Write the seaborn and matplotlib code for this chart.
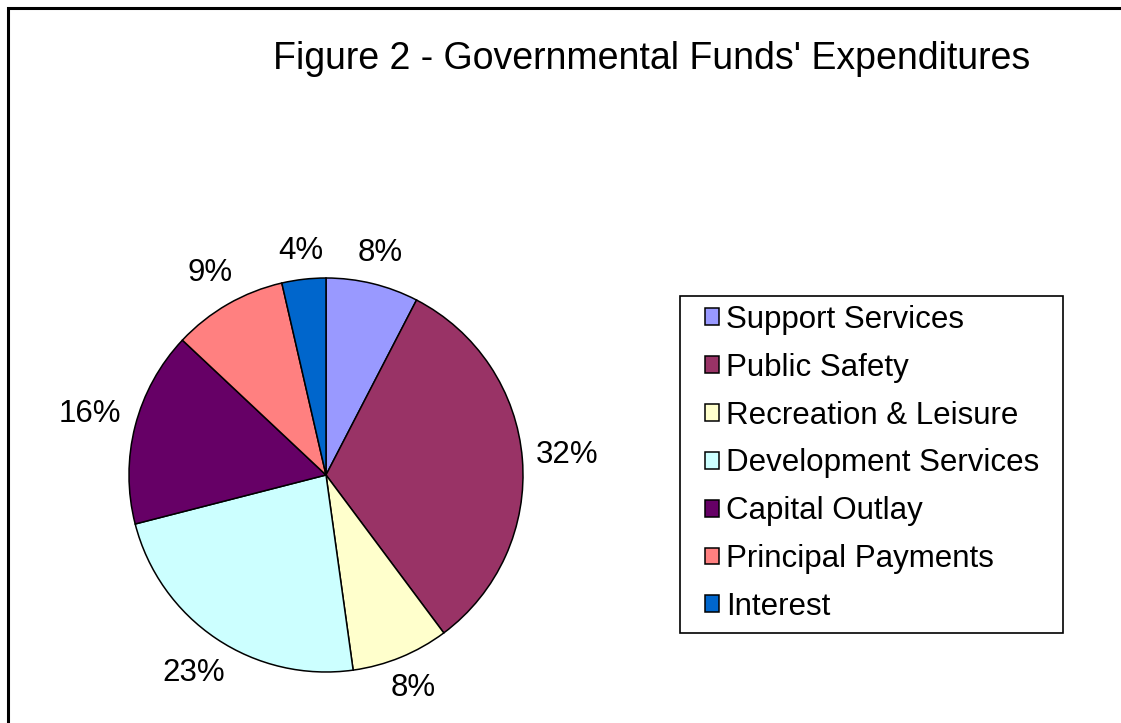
import numpy as np
import matplotlib.pyplot as plt
import seaborn as sns

# Podaci (procitano sa slike)
categories = ['Support Services', 'Public Safety', 'Recreation & Leisure',
              'Development Services', 'Capital Outlay', 'Principal Payments', 'Interest']
shares = [7.6, 32.2, 8.0, 23.2, 16.0, 9.4, 3.6]
colors = ['#9999FF', '#993366', '#FFFFCC', '#CCFFFF', '#660066', '#FF8080', '#0066CC']
title = "Figure 2 - Governmental Funds' Expenditures"

sns.set_style('white')
plt.rcParams['font.family'] = ['Liberation Sans', 'DejaVu Sans']
plt.rcParams['text.color'] = 'black'

W, H = 1121, 723
fig = plt.figure(figsize=(W / 100, H / 100), dpi=100)

# pita: centar (326, 475) px, radijus 197 px
R = 197
lim = 1.3
side = 2 * lim * R
cx, cy = 326, 475
ax = fig.add_axes([(cx - side / 2) / W, (H - cy - side / 2) / H, side / W, side / H])
wedges, texts = ax.pie(shares, colors=colors, startangle=90, counterclock=False,
                       labels=[f'{v:.0f}%' for v in shares], labeldistance=1.15,
                       wedgeprops={'edgecolor': 'black', 'linewidth': 1.1},
                       textprops={'fontsize': 22.5, 'color': 'black'})
ax.set_xlim(-lim, lim)
ax.set_ylim(-lim, lim)
ax.set_aspect('equal')
ax.axis('off')

# postavi oznake van pite, kao u Excelu (ivica teksta uz krug)
renderer = fig.canvas.get_renderer()
gap = 210
for w, t in zip(wedges, texts):
    ang = np.deg2rad((w.theta1 + w.theta2) / 2)
    ux, uy = np.cos(ang), np.sin(ang)
    ext = t.get_window_extent(renderer)
    r_px = gap + ext.width / 2 * abs(ux) + 26 / 2 * abs(uy)
    t.set_position((ux * r_px / R, uy * r_px / R))
    t.set_ha('center')
    t.set_va('center')
    t.set_clip_on(False)

fig.text(652 / W, 1 - 69 / H, title, fontsize=27, ha='center', va='baseline', color='black')

leg = fig.legend(wedges, categories, loc='upper left',
                 bbox_to_anchor=(705 / W, 1 - 305 / H), bbox_transform=fig.transFigure,
                 fontsize=22.5, frameon=False, borderaxespad=0, borderpad=0,
                 handlelength=0.45, handleheight=0.45, handletextpad=0.23,
                 labelspacing=0.57, labelcolor='black')

# okvir legende
fig.add_artist(plt.Rectangle((680 / W, 1 - 633 / H), 383 / W, 337 / H, transform=fig.transFigure,
                             fill=False, edgecolor='black', linewidth=1.2))

# okvir grafikona (samo lijeva i gornja ivica vidljive)
fig.add_artist(plt.Rectangle((7.5 / W, -0.1), 1.2, 1.1 - 8.5 / H, transform=fig.transFigure,
                             fill=False, edgecolor='black', linewidth=2.2))

fig.savefig('out.png', dpi=100)
